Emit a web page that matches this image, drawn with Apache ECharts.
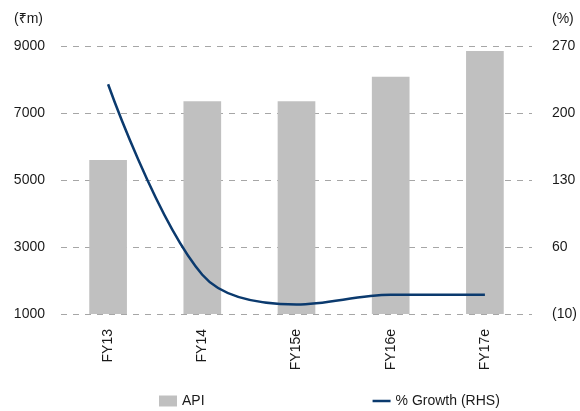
<!DOCTYPE html>
<html>
<head>
<meta charset="utf-8">
<script src="https://cdn.jsdelivr.net/npm/echarts@6/dist/echarts.min.js"></script>
<style>
  html, body { margin: 0; padding: 0; background: #fff; }
  #chart { width: 580px; height: 411px; }
</style>
</head>
<body>
<div id="chart"></div>
<script>
// Fiscal years on the category axis
const categories = ['FY13', 'FY14', 'FY15e', 'FY16e', 'FY17e'];
// API revenue, ₹m (left axis)
const apiValues = [5600, 7350, 7350, 8080, 8850];
// Year-on-year growth, % (right axis)
const growthValues = [230, 31, 0, 10, 10];
// Axis tick settings
const leftTicks = { min: 1000, max: 9000, interval: 2000 };
const rightTicks = { min: -10, max: 270, interval: 70 };

const FONT = '"Liberation Sans", Arial, "Noto Sans", sans-serif';
const textStyle = { fontFamily: FONT, fontSize: 14, color: '#1a1a1a' };
const LINE_COLOR = '#0b3a6e';

const chart = echarts.init(document.getElementById('chart'), null, { renderer: 'canvas' });

chart.setOption({
  animation: false,
  backgroundColor: '#ffffff',
  textStyle: { fontFamily: FONT },
  grid: { left: 61, right: 48, top: 46, bottom: 97, containLabel: false, outerBoundsMode: 'none' },
  legend: {
    left: 159,
    top: 394,
    padding: 0,
    itemWidth: 18,
    itemHeight: 11,
    itemGap: 168,
    textStyle: { fontFamily: FONT, fontSize: 14, color: '#1a1a1a' },
    data: [
      { name: 'API', icon: 'rect' },
      { name: '% Growth (RHS)', icon: 'path://M0,0 L18,0 L18,2.5 L0,2.5 Z', itemStyle: { color: LINE_COLOR } }
    ]
  },
  xAxis: {
    type: 'category',
    data: categories,
    axisLine: { show: false },
    axisTick: { show: false },
    axisLabel: Object.assign({ rotate: 90, margin: 15 }, textStyle)
  },
  yAxis: [
    {
      type: 'value',
      min: leftTicks.min,
      max: leftTicks.max,
      interval: leftTicks.interval,
      name: '(₹m)',
      nameLocation: 'end',
      nameGap: 20,
      nameTextStyle: Object.assign({ align: 'right', padding: [0, 18, 0, 0] }, textStyle),
      axisLine: { show: false },
      axisTick: { show: false },
      axisLabel: Object.assign({ margin: 16, formatter: v => String(v) }, textStyle),
      splitLine: { show: true, lineStyle: { color: '#a6a6a6', type: [6, 6], width: 1 } }
    },
    {
      type: 'value',
      min: rightTicks.min,
      max: rightTicks.max,
      interval: rightTicks.interval,
      name: '(%)',
      nameLocation: 'end',
      nameGap: 20,
      nameTextStyle: Object.assign({ align: 'left', padding: [0, 0, 0, 20] }, textStyle),
      axisLine: { show: false },
      axisTick: { show: false },
      axisLabel: Object.assign({
        margin: 20,
        formatter: v => (v < 0 ? '(' + (-v) + ')' : String(v))
      }, textStyle),
      splitLine: { show: false }
    }
  ],
  series: [
    {
      name: 'API',
      type: 'bar',
      yAxisIndex: 0,
      data: apiValues,
      barWidth: '40%',
      itemStyle: { color: '#c0c0c0' }
    },
    {
      name: '% Growth (RHS)',
      type: 'line',
      yAxisIndex: 1,
      data: growthValues,
      smooth: 0.35,
      symbol: 'none',
      showSymbol: false,
      lineStyle: { color: LINE_COLOR, width: 2.5 },
      itemStyle: { color: LINE_COLOR }
    }
  ]
});
</script>
</body>
</html>
